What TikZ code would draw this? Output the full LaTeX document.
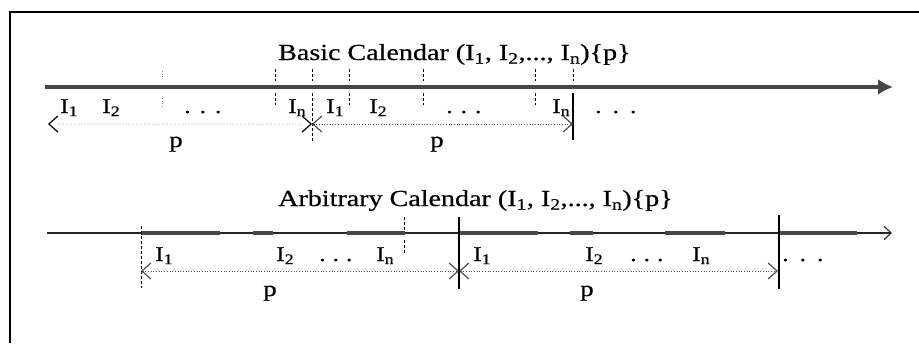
\documentclass[tikz,border=0pt]{standalone}
\usepackage{fontspec}
\setmainfont{Liberation Serif}[FakeStretch=1.22,FakeBold=0.6]
\usetikzlibrary{arrows.meta}
\newcommand\mydots[1]{.\hspace{#1}.\hspace{#1}.}
\begin{document}
\begin{tikzpicture}[x=1pt,y=-1pt,
  titletext/.style={font=\fontsize{23}{27}\selectfont, anchor=base west, inner sep=0pt},
  lbl/.style={font=\fontsize{21}{25}\selectfont, anchor=base west, inner sep=0pt},
  plbl/.style={font=\fontsize{22}{25}\selectfont, anchor=base, inner sep=0pt},
  tickmark/.style={densely dashed, line width=0.9pt},
  fainttick/.style={dotted, line width=0.7pt, black!45},
  solidtick/.style={line width=1.2pt},
  barb/.tip={Straight Barb[length=9pt,width=16pt,line width=1.2pt]},
  parrow/.style={dotted, line width=0.7pt, black!70, barb-barb},
  tipsonly/.style={barb-barb, dash pattern=on 0pt off 2000pt},
  faintline/.style={dotted, line width=0.6pt, black!20, shorten <=10pt, shorten >=10pt},
  thickaxis/.style={line width=4pt, black!72, -{Latex[length=15pt,width=16pt]}},
  thinaxis/.style={line width=1.1pt, black!85, -{Straight Barb[length=7pt,width=13pt,line width=1.1pt]}},
  bar/.style={line width=4pt, black!72},
  frame/.style={line width=1.5pt}]
\useasboundingbox (0,0) rectangle (919,343);
% frame
\coordinate (f0) at (10,343);
\coordinate (f1) at (10,12);
\coordinate (f2) at (919,12);
\draw[frame] (f0) -- (f1) -- (f2);

% ---------------- Basic calendar ----------------
\node[titletext] (t1) at (278,60) {Basic Calendar (I\textsubscript{1}, I\textsubscript{2},..., I\textsubscript{n})\{p\}};
\coordinate (a1s) at (45,87);
\coordinate (a1e) at (893,87);
\draw[thickaxis] (a1s) -- (a1e);
% ticks
\foreach \x in {275,349,423,535}{
  \draw[tickmark] (\x,69) -- (\x,81);
  \draw[tickmark] (\x,93) -- (\x,105);
}
\draw[tickmark] (312,69) -- (312,81);
\draw[tickmark] (312,93) -- (312,141);
\draw[tickmark] (573,69) -- (573,81);
\draw[solidtick] (573,93) -- (573,140);
\draw[fainttick] (162,71) -- (162,79);
\draw[fainttick] (162,98) -- (162,108);
% labels
\node[lbl] (b11) at (60,113) {I\textsubscript{1}};
\node[lbl] (b12) at (102,113) {I\textsubscript{2}};
\node[lbl] (b1d) at (184,113) {\mydots{9pt}};
\node[lbl] (b1n) at (288,113) {I\textsubscript{n}};
\node[lbl] (b21) at (326,113) {I\textsubscript{1}};
\node[lbl] (b22) at (369,113) {I\textsubscript{2}};
\node[lbl] (b2d) at (446,113) {\mydots{8pt}};
\node[lbl] (b2n) at (552,113) {I\textsubscript{n}};
\node[lbl] (b3d) at (595,113) {\mydots{11pt}};
% period arrows
\coordinate (bp0) at (48,124);
\coordinate (bp1) at (312,124);
\coordinate (bp2) at (573,124);
\draw[faintline] (bp0) -- (bp1);
\draw[tipsonly] (bp0) -- (bp1);
\draw[parrow] (bp1) -- (bp2);
\node[plbl] (bpl1) at (176,147) {p};
\node[plbl] (bpl2) at (437,147) {p};

% ---------------- Arbitrary calendar ----------------
\node[titletext] (t2) at (278,206) {Arbitrary Calendar (I\textsubscript{1}, I\textsubscript{2},..., I\textsubscript{n})\{p\}};
\coordinate (a2s) at (47,233);
\coordinate (a2e) at (892,233);
\draw[thinaxis] (a2s) -- (a2e);
\foreach \s/\e in {141/220,253/273,347/405,460/538,570/593,665/725,779/857}{
  \draw[bar] (\s,233) -- (\e,233);
}
% ticks
\draw[tickmark] (141,226) -- (141,288);
\draw[tickmark] (404,217) -- (404,231);
\draw[tickmark] (404,240) -- (404,253);
\draw[solidtick] (459,217) -- (459,289);
\draw[solidtick] (779,215) -- (779,289);
% labels
\node[lbl] (c11) at (155,261) {I\textsubscript{1}};
\node[lbl] (c12) at (276,261) {I\textsubscript{2}};
\node[lbl] (c1d) at (319,261) {\mydots{7pt}};
\node[lbl] (c1n) at (376,261) {I\textsubscript{n}};
\node[lbl] (c21) at (473,261) {I\textsubscript{1}};
\node[lbl] (c22) at (585,261) {I\textsubscript{2}};
\node[lbl] (c2d) at (630,261) {\mydots{7pt}};
\node[lbl] (c2n) at (692,261) {I\textsubscript{n}};
\node[lbl] (c3d) at (782,261) {\mydots{11pt}};
% period arrows
\coordinate (cp0) at (141,271);
\coordinate (cp1) at (459,271);
\coordinate (cp2) at (778,271);
\draw[parrow] (cp0) -- (cp1);
\draw[parrow] (cp1) -- (cp2);
\node[plbl] (cpl1) at (270,296) {p};
\node[plbl] (cpl2) at (587,296) {p};
\end{tikzpicture}
\end{document}
